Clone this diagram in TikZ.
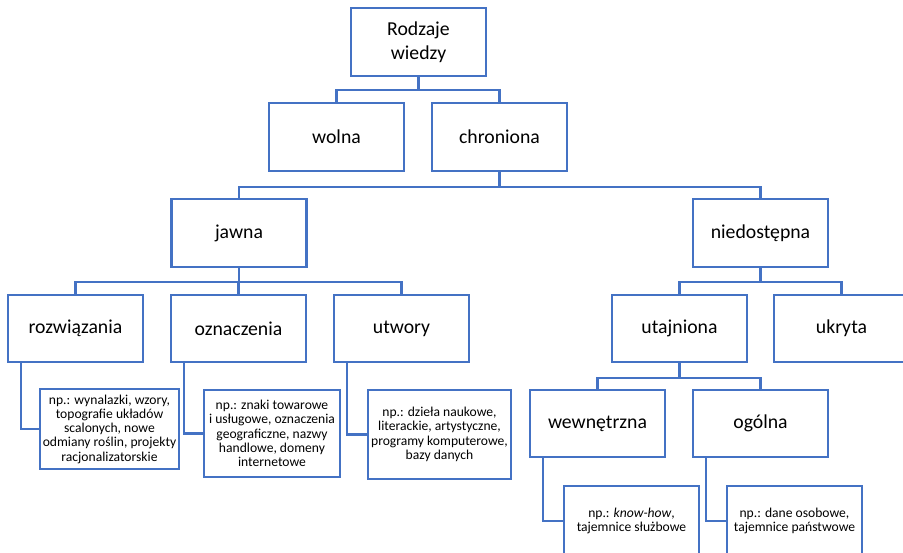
\documentclass[tikz,border=0pt]{standalone}
\usepackage{fontspec}
\setmainfont{Carlito}
\definecolor{kwblue}{RGB}{68,114,196}
\usetikzlibrary{calc}
\tikzset{
  catbox/.style={rectangle,draw=kwblue,line width=1.7pt,fill=white,
                 minimum width=101.25pt,minimum height=50.6pt,inner sep=2pt,
                 font=\fontsize{14.8}{18}\selectfont,align=center},
  notebox/.style={rectangle,draw=kwblue,line width=1.7pt,fill=white,
                  inner sep=2pt,font=\fontsize{10.2}{10.7}\selectfont,align=center},
  link/.style={draw=kwblue,line width=1.6pt},
}

\begin{document}
\begin{tikzpicture}[x=0.75pt,y=-0.75pt]
    \useasboundingbox (0,0) rectangle (903,553);

    % categories
    \node[catbox] (root)    at (418.5,42)    {Rodzaje\\wiedzy};
    \node[catbox] (wolna)   at (336.5,137)   {wolna};
    \node[catbox] (chron)   at (499.5,137)   {chroniona};
    \node[catbox] (jawna)   at (239,233)     {jawna};
    \node[catbox] (niedost) at (760.5,233)   {niedostępna};
    \node[catbox] (rozw)    at (75.5,328.5)  {rozwiązania};
    \node[catbox] (ozn)     at (238.5,328.5) {oznaczenia};
    \node[catbox] (utw)     at (401.5,328.5) {utwory};
    \node[catbox] (utaj)    at (679.5,328.5) {utajniona};
    \node[catbox] (ukryta)  at (841.5,328.5) {ukryta};
    \node[catbox] (wewn)    at (597.5,423.5) {wewnętrzna};
    \node[catbox] (ogolna)  at (760.5,423.5) {ogólna};

    % examples
    \node[notebox,minimum width=101.25pt,minimum height=60pt] (rozwnote) at (109.5,429)
         {np.: wynalazki, wzory,\\topografie układów\\scalonych, nowe\\odmiany roślin, projekty\\racjonalizatorskie};
    \node[notebox,minimum width=102pt,minimum height=65.25pt] (oznnote) at (272,433.5)
         {np.: znaki towarowe\\i usługowe, oznaczenia\\geograficzne, nazwy\\handlowe, domeny\\internetowe};
    \node[notebox,minimum width=107.25pt,minimum height=66.75pt] (utwnote) at (439.5,434.5)
         {np.: dzieła naukowe,\\literackie, artystyczne,\\programy komputerowe,\\bazy danych};
    \node[notebox,minimum width=101.25pt,minimum height=52.5pt] (wewnnote) at (631.5,521)
         {np.: \textit{know-how},\\tajemnice służbowe};
    \node[notebox,minimum width=101.25pt,minimum height=52.5pt] (ogolnanote) at (794.5,521)
         {np.: dane osobowe,\\tajemnice państwowe};

    % tree links
    \foreach \kid in {wolna,chron}
      \draw[link] (root.south) -- ++(0,13) -| (\kid.north);
    \foreach \kid in {jawna,niedost}
      \draw[link] (chron.south) -- ++(0,15) -| (\kid.north);
    \foreach \kid in {rozw,ozn,utw}
      \draw[link] (jawna.south) -- ++(0,14) -| (\kid.north);
    \foreach \kid in {utaj,ukryta}
      \draw[link] (niedost.south) -- ++(0,14) -| (\kid.north);
    \foreach \kid in {wewn,ogolna}
      \draw[link] (utaj.south) -- ++(0,15) -| (\kid.north);
    \foreach \kid/\note in {rozw/rozwnote,ozn/oznnote,utw/utwnote,wewn/wewnnote,ogolna/ogolnanote}
      \draw[link] ($(\kid.south west)+(14,0)$) |- (\note.west);
\end{tikzpicture}
\end{document}
